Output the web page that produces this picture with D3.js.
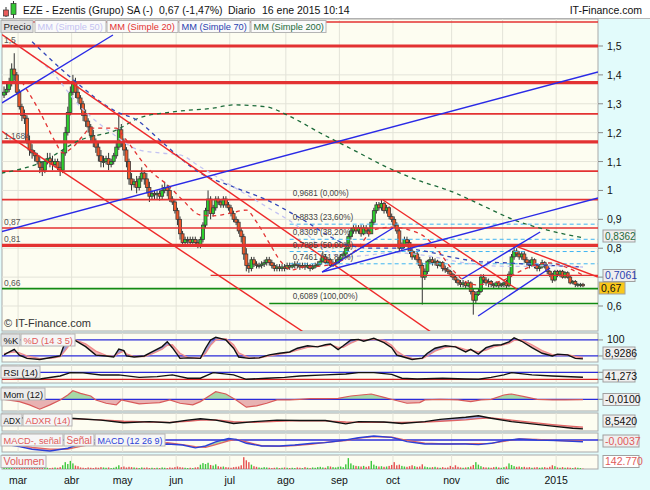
<!DOCTYPE html>
<html><head><meta charset="utf-8">
<script src="https://cdnjs.cloudflare.com/ajax/libs/d3/7.8.5/d3.min.js"></script>
<style>
html,body{margin:0;padding:0;background:#fff;}
svg{display:block;font-family:"Liberation Sans",Arial,sans-serif;}
</style></head><body>
<svg id="chart" width="650" height="490"></svg>
<script>
// ================= DATA =================
const opens = [
1.33,1.34,1.35,1.37,1.42,1.40,1.34,1.29,1.26,1.25,
1.17,1.14,1.13,1.12,1.10,1.08,1.07,1.10,1.11,1.10,
1.09,1.10,1.08,1.07,1.13,1.20,1.27,1.34,1.37,1.34,
1.32,1.30,1.26,1.24,1.22,1.19,1.17,1.15,1.12,1.10,
1.10,1.11,1.09,1.10,1.12,1.15,1.21,1.17,1.14,1.10,
1.04,1.02,1.03,1.01,1.04,1.06,1.04,1.01,0.98,0.99,
0.985,0.99,0.98,1.00,1.01,1.00,0.97,0.96,0.93,0.90,
0.85,0.82,0.83,0.83,0.82,0.83,0.82,0.81,0.83,0.88,
0.93,0.97,0.92,0.94,0.97,0.96,0.95,0.97,0.95,0.94,
0.92,0.90,0.89,0.86,0.84,0.78,0.74,0.73,0.76,0.745,
0.74,0.74,0.745,0.75,0.76,0.75,0.74,0.73,0.735,0.73,
0.735,0.73,0.74,0.735,0.74,0.745,0.74,0.735,0.74,0.735,
0.74,0.73,0.735,0.74,0.745,0.755,0.77,0.75,0.76,0.74,
0.745,0.75,0.76,0.77,0.78,0.80,0.84,0.86,0.87,0.86,
0.87,0.85,0.87,0.86,0.85,0.89,0.93,0.95,0.94,0.955,
0.93,0.94,0.91,0.90,0.88,0.86,0.80,0.81,0.83,0.82,
0.79,0.77,0.78,0.76,0.74,0.70,0.72,0.755,0.76,0.75,
0.755,0.74,0.75,0.73,0.725,0.72,0.71,0.70,0.69,0.68,
0.675,0.68,0.67,0.68,0.65,0.62,0.64,0.65,0.70,0.69,
0.68,0.685,0.675,0.67,0.68,0.67,0.675,0.68,0.67,0.71,
0.77,0.79,0.78,0.77,0.78,0.76,0.75,0.74,0.76,0.74,
0.73,0.735,0.75,0.74,0.72,0.71,0.69,0.72,0.71,0.72,
0.70,0.715,0.70,0.68,0.685,0.675,0.675,0.675];
const highs = [
1.36,1.37,1.39,1.44,1.475,1.41,1.35,1.30,1.28,1.26,
1.19,1.16,1.14,1.13,1.12,1.10,1.11,1.13,1.13,1.12,
1.11,1.11,1.10,1.14,1.22,1.29,1.36,1.40,1.39,1.36,
1.33,1.31,1.28,1.25,1.23,1.21,1.18,1.17,1.14,1.12,
1.12,1.13,1.11,1.13,1.17,1.26,1.23,1.18,1.15,1.11,
1.06,1.04,1.05,1.05,1.08,1.07,1.06,1.03,1.00,1.00,
1.00,1.00,1.02,1.03,1.02,1.01,0.98,0.97,0.94,0.91,
0.86,0.84,0.84,0.84,0.84,0.84,0.83,0.84,0.89,0.94,
1.00,0.98,0.95,0.98,0.98,0.97,0.98,0.98,0.96,0.95,
0.93,0.91,0.90,0.87,0.85,0.80,0.75,0.77,0.77,0.755,
0.75,0.755,0.76,0.77,0.77,0.76,0.75,0.745,0.745,0.745,
0.745,0.75,0.75,0.75,0.755,0.755,0.75,0.75,0.75,0.75,
0.745,0.745,0.75,0.755,0.765,0.79,0.78,0.77,0.765,0.755,
0.76,0.77,0.78,0.79,0.81,0.85,0.87,0.88,0.88,0.88,
0.88,0.88,0.88,0.87,0.90,0.94,0.96,0.96,0.967,0.96,
0.95,0.945,0.92,0.91,0.89,0.87,0.82,0.84,0.84,0.83,
0.80,0.79,0.79,0.77,0.75,0.73,0.76,0.77,0.77,0.765,
0.76,0.755,0.755,0.74,0.735,0.725,0.715,0.705,0.695,0.69,
0.69,0.685,0.69,0.685,0.66,0.65,0.66,0.71,0.71,0.70,
0.695,0.69,0.68,0.685,0.685,0.68,0.685,0.69,0.72,0.78,
0.81,0.80,0.79,0.79,0.79,0.77,0.76,0.77,0.765,0.745,
0.745,0.76,0.755,0.745,0.725,0.715,0.725,0.725,0.725,0.725,
0.72,0.72,0.705,0.69,0.69,0.68,0.68,0.68];
const lows = [
1.32,1.33,1.34,1.36,1.38,1.33,1.28,1.24,1.23,1.16,
1.12,1.11,1.10,1.09,1.06,1.05,1.06,1.09,1.08,1.07,
1.08,1.07,1.05,1.06,1.12,1.19,1.26,1.33,1.32,1.30,
1.28,1.24,1.22,1.20,1.17,1.15,1.13,1.10,1.08,1.08,
1.09,1.07,1.08,1.09,1.11,1.14,1.15,1.12,1.08,1.02,
1.00,1.01,0.99,1.00,1.03,1.02,0.99,0.96,0.97,0.97,
0.97,0.965,0.97,0.99,0.98,0.96,0.95,0.92,0.88,0.83,
0.81,0.81,0.815,0.81,0.815,0.81,0.80,0.80,0.82,0.87,
0.91,0.90,0.91,0.93,0.95,0.94,0.94,0.94,0.93,0.91,
0.89,0.88,0.85,0.82,0.76,0.72,0.715,0.72,0.735,0.73,
0.73,0.73,0.735,0.74,0.74,0.73,0.72,0.72,0.72,0.72,
0.72,0.725,0.725,0.73,0.73,0.73,0.725,0.73,0.725,0.73,
0.72,0.725,0.73,0.735,0.74,0.75,0.745,0.745,0.735,0.735,
0.74,0.745,0.755,0.765,0.77,0.79,0.83,0.85,0.85,0.85,
0.84,0.845,0.85,0.84,0.85,0.88,0.92,0.93,0.93,0.92,
0.92,0.90,0.89,0.87,0.85,0.79,0.79,0.80,0.81,0.78,
0.76,0.76,0.75,0.73,0.605,0.69,0.71,0.745,0.74,0.74,
0.73,0.735,0.72,0.715,0.71,0.70,0.69,0.68,0.67,0.665,
0.665,0.66,0.665,0.64,0.57,0.61,0.635,0.645,0.68,0.67,
0.665,0.665,0.66,0.665,0.66,0.665,0.665,0.66,0.665,0.70,
0.76,0.77,0.76,0.76,0.75,0.74,0.73,0.735,0.73,0.72,
0.72,0.73,0.73,0.71,0.70,0.68,0.685,0.70,0.70,0.695,
0.695,0.695,0.675,0.675,0.665,0.665,0.665,0.665];
const closes = [
1.34,1.35,1.37,1.42,1.40,1.34,1.29,1.26,1.25,1.17,
1.14,1.13,1.12,1.10,1.08,1.07,1.10,1.11,1.10,1.09,
1.10,1.08,1.07,1.13,1.20,1.27,1.34,1.37,1.34,1.32,
1.30,1.26,1.24,1.22,1.19,1.17,1.15,1.12,1.10,1.10,
1.11,1.09,1.10,1.12,1.15,1.21,1.17,1.14,1.10,1.04,
1.02,1.03,1.01,1.04,1.06,1.04,1.01,0.98,0.99,0.985,
0.99,0.98,1.00,1.01,1.00,0.97,0.96,0.93,0.90,0.85,
0.82,0.83,0.83,0.82,0.83,0.82,0.81,0.83,0.88,0.93,
0.97,0.92,0.94,0.97,0.96,0.95,0.97,0.95,0.94,0.92,
0.90,0.89,0.86,0.84,0.78,0.74,0.73,0.76,0.745,0.74,
0.74,0.745,0.75,0.76,0.75,0.74,0.73,0.735,0.73,0.735,
0.73,0.74,0.735,0.74,0.745,0.74,0.735,0.74,0.735,0.74,
0.73,0.735,0.74,0.745,0.755,0.77,0.75,0.76,0.74,0.745,
0.75,0.76,0.77,0.78,0.80,0.84,0.86,0.87,0.86,0.87,
0.85,0.87,0.86,0.85,0.89,0.93,0.95,0.94,0.955,0.93,
0.94,0.91,0.90,0.88,0.86,0.80,0.81,0.83,0.82,0.79,
0.77,0.78,0.76,0.74,0.70,0.72,0.755,0.76,0.75,0.755,
0.74,0.75,0.73,0.725,0.72,0.71,0.70,0.69,0.68,0.675,
0.68,0.67,0.68,0.65,0.62,0.64,0.65,0.70,0.69,0.68,
0.685,0.675,0.67,0.68,0.67,0.675,0.68,0.67,0.71,0.77,
0.79,0.78,0.77,0.78,0.76,0.75,0.74,0.76,0.74,0.73,
0.735,0.75,0.74,0.72,0.71,0.69,0.72,0.71,0.72,0.70,
0.715,0.70,0.68,0.685,0.675,0.675,0.675,0.67];
// volume in thousands of shares
const volumes = [
500,400,600,900,800,500,400,500,400,600,
500,400,300,400,500,400,300,400,300,400,
500,400,600,1200,2200,1600,2600,1800,1100,900,
500,400,300,500,400,300,500,400,600,500,
400,500,300,400,700,1200,600,800,500,700,
600,500,400,300,500,400,500,300,400,300,
400,300,500,400,300,500,400,600,800,600,
500,400,300,400,300,500,600,1400,1900,1600,
2000,1300,1100,1500,900,700,800,600,500,400,
600,700,800,1200,3800,2800,2200,1400,900,700,
500,400,600,500,400,300,400,500,300,400,
500,400,300,400,300,500,400,300,600,400,
300,500,400,600,700,500,400,900,800,600,
500,700,800,600,1500,3500,1800,1200,1000,900,
800,1000,700,900,2600,1400,1000,800,900,700,
800,1000,1300,2200,1200,1400,1000,800,700,900,
1200,900,700,800,1500,800,600,500,600,700,
500,400,600,400,500,1000,600,1200,700,500,
400,500,600,800,1300,2200,1400,900,600,500,
500,400,600,700,500,400,600,800,1800,1300,
900,700,800,600,700,500,600,400,500,600,
400,500,600,400,700,1200,900,500,400,600,
400,500,400,300,500,400,300,143];

const monthLabels = ["mar","abr","may","jun","jul","ago","sep","oct","nov","dic","2015"];
const monthStarts = [6,27,47,68,89,111,132,153,176,196,217];   // trading-day index of first session
const priceTicks = [0.6,0.7,0.8,0.9,1,1.1,1.2,1.3,1.4,1.5];
const priceTickLabels = ["0,6","","0,8","0,9","1","1,1","1,2","1,3","1,4","1,5"]; // 0,7 hidden under value tag

// horizontal support / resistance levels
const redLevels = [1.583,1.5,1.373,1.265,1.1684,1.067,0.9681,0.87,0.81];
const strongLevels = [1.5,1.373,1.1684,0.81];
const levelTags = [["1,5",1.5],["1,1684",1.1684],["0,87",0.87],["0,81",0.81],["0,66",0.66]];
const partialRedLevel = [81, 0.7061];          // [start day, price]
const greenLevels = [[-1, 0.66],[104, 0.6089]]; // [start day, price]

// Fibonacci retracement
const fibStartDay = 112;
const fibValues = [0.9681,0.8833,0.8309,0.7885,0.7461,0.6089];
const fibPcts = ["0,00%","23,60%","38,20%","50,00%","61,80%","100,00%"];

// trend lines: [[day, price],[day, price]]
const redTrends = [
  [[-0.8,1.5395],[174,0.4696]],
  [[-0.8,1.2047],[117,0.5124]],
  [[148.6,0.967],[201.6,0.6554]],
  [[199.6,0.811],[232.9,0.7004]]
];
const blueTrends = [
  [[-1.6,0.856],[232.9,1.41]],
  [[-1.6,1.299],[42.7,1.538]],
  [[124.7,0.7177],[232.9,0.974]],
  [[124.7,0.7177],[152.5,0.870]],
  [[179.6,0.6935],[210.2,0.8562]],
  [[185.9,0.5654],[214.1,0.7316]]
];

// moving averages (sampled [day, price])
const ma20 = [[7,1.376],[14,1.273],[20,1.17],[23,1.13],[27,1.15],[31,1.19],[34,1.216],[44,1.216],[47,1.185],[57,1.071],[65,1.012],[70,0.967],[77,0.915],[82,0.912],[89,0.922],[95,0.932],[99,0.891],[104,0.818],[109,0.749],[113,0.725],[117,0.735],[124,0.738],[132,0.756],[138,0.794],[145,0.863],[152,0.873],[159,0.863],[165,0.839],[170,0.794],[175,0.735],[180,0.69],[185,0.673],[191,0.68],[196,0.69],[201,0.714],[206,0.735],[214,0.749],[221,0.732],[227,0.707]];
const ma50 = [[6,1.497],[18,1.417],[30,1.289],[42,1.20],[53,1.14],[61,1.13],[69,1.123],[77,1.081],[90,1.012],[103,0.943],[116,0.87],[125,0.80],[133,0.77],[142,0.775],[152,0.785],[165,0.775],[180,0.75],[193,0.738],[203,0.737],[214,0.74],[227,0.735]];
const ma70 = [[11,1.515],[25,1.40],[44,1.273],[52,1.244],[61,1.175],[77,1.06],[90,1.012],[103,0.967],[116,0.905],[130,0.83],[135,0.81],[145,0.80],[155,0.80],[165,0.79],[175,0.77],[185,0.755],[195,0.75],[205,0.745],[215,0.74],[227,0.735]];
const ma200 = [[-1,1.06],[14,1.095],[30,1.175],[44,1.209],[53,1.251],[66,1.272],[82,1.285],[90,1.296],[103,1.289],[111,1.261],[124,1.199],[137,1.14],[150,1.081],[163,1.033],[175,0.998],[188,0.946],[200,0.898],[213,0.863],[227,0.836]];

// Stochastic %K / %D (14 3 5)
const stochDays = [0,1,4,6,9,14,19,22,24,26,28,32,36,40,43,45,47,48,51,55,58,62,64,66,69,72,77,79,81,83,87,90,92,96,100,104,108,112,115,119,123,126,128,131,133,136,139,141,145,149,152,154,157,160,164,166,169,173,177,181,183,186,189,192,195,198,200,203,207,211,215,217,221,224,227];
const stochK = [24,30,45,23,11,7,15,20,73,86,77,55,23,20,16,46,40,20,16,20,35,55,73,51,11,13,11,49,80,90,80,49,16,11,13,24,30,35,49,58,54,62,65,44,58,80,82,75,86,70,51,23,15,7,12,30,49,58,54,35,45,27,51,60,62,73,88,75,51,30,20,27,24,11,9];
const stochD = [30,31,35,32,20,10,12,17,40,65,80,65,38,22,18,30,38,28,18,18,28,45,60,62,30,15,12,30,60,80,85,62,32,14,12,20,27,33,42,52,56,58,62,52,52,68,80,80,82,78,60,38,20,11,10,20,38,52,56,44,42,35,42,54,60,67,78,80,62,40,25,24,25,18,14];
// RSI (14)
const rsiDays = [0,6,14,22,26,31,38,45,53,60,66,72,77,82,90,95,103,110,116,126,134,139,145,152,156,162,172,181,186,191,196,199,207,215,227];
const rsiVals = [45,36,32,49,68,67,55,55,41,45,55,36,36,68,55,30,36,41,49,55,60,68,68,58,36,32,36,32,30,41,55,68,55,49,41.3];
// Momentum (12)
const momDays = [0,6,10,14,18,22,25,27,30,34,36,40,44,46,49,53,57,61,65,69,74,77,81,83,87,91,95,99,103,107,112,116,120,126,131,136,144,149,153,158,163,165,171,178,183,187,191,196,199,204,209,215,220,227];
const momVals = [0,-0.07,-0.17,-0.30,-0.17,-0.02,0.13,0.26,0.18,0.10,-0.02,-0.12,-0.17,-0.02,-0.07,-0.14,-0.12,-0.10,-0.02,-0.12,-0.17,-0.07,0.13,0.23,0.16,-0.02,-0.24,-0.20,-0.12,-0.02,-0.02,0,0.02,0.02,0.03,0.10,0.16,0.06,-0.02,-0.12,-0.10,-0.02,0,-0.02,-0.07,-0.02,0,0.13,0.16,0.08,0,-0.02,-0.02,-0.01];
// ADX / ADXR (14)
const adxDays = [0,10,20,26,38,47,57,65,72,77,83,90,98,107,116,126,134,139,149,156,165,171,181,186,191,199,207,215,223,227];
const adxVals = [40,38,36,37,32,25,28,25,32,36,32,23,28,32,31,31,22,28,27,23,28,34,40,44,37,28,22,16,10,8.542];
const adxrVals = [38,37,36,36,33,29,27,26,29,32,33,28,26,29,31,30,27,26,26,26,27,29,33,36,38,32,26,20,15,13];
// MACD (12 26 9)
const macdDays = [0,6,11,18,25,30,35,45,55,64,70,75,79,83,88,91,95,101,108,114,121,126,134,139,145,152,158,165,173,181,186,191,196,202,209,217,227];
const macdVals = [-0.0087,-0.0145,-0.020,-0.024,-0.018,-0.008,-0.006,-0.010,-0.012,-0.0087,-0.011,-0.017,-0.013,-0.004,0.0036,0.0014,-0.0072,-0.013,-0.013,-0.011,-0.0072,-0.0058,0,0.005,0.0087,0.0058,-0.0036,-0.0087,-0.0087,-0.0087,-0.010,-0.0072,-0.0014,0.0022,0,-0.0014,-0.0037];
const signalVals = [-0.006,-0.011,-0.016,-0.020,-0.020,-0.014,-0.009,-0.009,-0.011,-0.0058,-0.010,-0.0145,-0.016,-0.010,-0.002,0.0014,-0.004,-0.0125,-0.014,-0.012,-0.009,-0.005,-0.0014,0.004,0.0072,0.006,-0.001,-0.007,-0.0087,-0.008,-0.0078,-0.0072,-0.003,0.0025,0.0014,-0.0014,-0.0022];

// ================= DRAWING =================
const svg = d3.select("#chart");
const defs = svg.append("defs");
const X0 = 2, X1 = 598;
const xS = d3.scaleLinear().domain([-0.8, 232.9]).range([X0, X1]);
const comma = v => String(v).replace(".", ",");

const P = {
  main:[19,331], stoch:[333,362], rsi:[365,383], mom:[387,411],
  adx:[413,431], macd:[433,452], vol:[455,469]
};
const bg = "#fdfdf1", frame = "#a9a9a9", gridC = "#e3e3d8";

svg.append("rect").attr("width",650).attr("height",490).attr("fill","#e2fbfb");
svg.append("rect").attr("x",0).attr("y",0).attr("width",650).attr("height",18).attr("fill","#fff");
svg.append("line").attr("x1",0).attr("x2",650).attr("y1",18.5).attr("y2",18.5).attr("stroke","#b8b8b8");

let clipN = 0;
function panel(key){
  const [t,b] = P[key];
  svg.append("rect").attr("x",X0).attr("y",t).attr("width",X1-X0).attr("height",b-t)
     .attr("fill",bg).attr("stroke",frame).attr("stroke-width",1);
  const id = "clip"+(clipN++);
  defs.append("clipPath").attr("id",id).append("rect")
      .attr("x",X0).attr("y",t).attr("width",X1-X0).attr("height",b-t);
  const g = svg.append("g").attr("clip-path",`url(#${id})`);
  g.selectAll("line.vg").data(monthStarts).join("line")
   .attr("x1",d=>xS(d-0.5)).attr("x2",d=>xS(d-0.5)).attr("y1",t).attr("y2",b)
   .attr("stroke",gridC).attr("stroke-width",1);
  return g;
}
// boxed label: fixed box width, font shrunk until text fits
function boxText(x, y, w, txt, col, fill, size){
  const g = svg.append("g");
  g.append("rect").attr("x",x).attr("y",y).attr("width",w).attr("height",12)
     .attr("fill",fill).attr("stroke","#b4b4b4");
  const t = g.append("text").attr("x",x+2.5).attr("y",y+9.6).attr("fill",col).text(txt);
  let s = size;
  t.attr("font-size",s);
  while (t.node().getComputedTextLength() > w-4 && s > 7){ s -= 0.25; t.attr("font-size",s); }
  return w;
}

// ---------- MAIN PANEL ----------
const yM = d3.scaleLinear().domain([0.6,1.5]).range([306,46]);
const gm = panel("main");
gm.selectAll("line.hg").data(priceTicks).join("line")
  .attr("x1",X0).attr("x2",X1).attr("y1",d=>yM(d)).attr("y2",d=>yM(d))
  .attr("stroke",gridC);

// candles
const idx = d3.range(closes.length);
gm.selectAll("line.wick").data(idx).join("line")
  .attr("x1",i=>xS(i)).attr("x2",i=>xS(i))
  .attr("y1",i=>yM(highs[i])).attr("y2",i=>yM(lows[i]))
  .attr("stroke","#333").attr("stroke-width",1);
gm.selectAll("rect.body").data(idx).join("rect")
  .attr("x",i=>xS(i)-1.5).attr("width",3)
  .attr("y",i=>yM(Math.max(opens[i],closes[i])))
  .attr("height",i=>Math.max(1,Math.abs(yM(opens[i])-yM(closes[i]))))
  .attr("fill",i=>closes[i]>=opens[i]?"#2bd12b":"#f0592a")
  .attr("stroke","#3a3a3a").attr("stroke-width",0.8);

// horizontal levels
gm.selectAll("line.lvl").data(redLevels).join("line")
  .attr("x1",X0).attr("x2",X1).attr("y1",d=>yM(d)).attr("y2",d=>yM(d))
  .attr("stroke","#e33232").attr("stroke-width",d=>strongLevels.includes(d)?3.2:1.6);
gm.append("line").attr("x1",xS(partialRedLevel[0])).attr("x2",X1)
  .attr("y1",yM(partialRedLevel[1])).attr("y2",yM(partialRedLevel[1]))
  .attr("stroke","#e33232").attr("stroke-width",1.4);
gm.selectAll("line.glvl").data(greenLevels).join("line")
  .attr("x1",d=>Math.max(X0,xS(d[0]))).attr("x2",X1).attr("y1",d=>yM(d[1])).attr("y2",d=>yM(d[1]))
  .attr("stroke","#128a12").attr("stroke-width",1.6);

// fibonacci dashed levels
gm.selectAll("line.fib").data(fibValues.slice(1,5)).join("line")
  .attr("x1",xS(fibStartDay)).attr("x2",X1).attr("y1",d=>yM(d)).attr("y2",d=>yM(d))
  .attr("stroke","#3fb4f2").attr("stroke-width",1).attr("stroke-dasharray","4,3");

// moving averages
const maLine = d3.line().x(d=>xS(d[0])).y(d=>yM(d[1])).curve(d3.curveMonotoneX);
[[ma200,"#1d6b3a"],[ma70,"#3346b8"],[ma50,"#c3c3f2"],[ma20,"#e33232"]].forEach(([data,c])=>{
  gm.append("path").attr("d",maLine(data)).attr("fill","none")
    .attr("stroke",c).attr("stroke-width",1.3).attr("stroke-dasharray","4,4");
});

// trend lines
const seg = d3.line().x(d=>xS(d[0])).y(d=>yM(d[1]));
redTrends.forEach(t=>gm.append("path").attr("d",seg(t)).attr("fill","none")
  .attr("stroke","#ee2a2a").attr("stroke-width",1.4));
blueTrends.forEach(t=>gm.append("path").attr("d",seg(t)).attr("fill","none")
  .attr("stroke","#2a2ae6").attr("stroke-width",1.4));

// level tags (left)
gm.selectAll("text.tag").data(levelTags).join("text")
  .attr("x",4).attr("y",d=>yM(d[1])-3).text(d=>d[0])
  .attr("font-size",8.5).attr("fill","#555");
// fib labels
gm.selectAll("text.fibt").data(fibValues).join("text")
  .attr("x",xS(fibStartDay)+3).attr("y",d=>yM(d)-4)
  .text((d,i)=>comma(d.toFixed(4))+" ("+fibPcts[i]+")")
  .attr("font-size",8.2).attr("fill","#444");
gm.append("text").attr("x",4).attr("y",327).attr("font-size",11).attr("fill","#333")
  .text("\u00A9 IT-Finance.com");

// legend row
const legend = [["Precio","#222","#e2e2e2",1,32],["MM (Simple 50)","#c3c3f2","#fafafa",35,71],
  ["MM (Simple 20)","#e33232","#fafafa",107,71],["MM (Simple 70)","#2a3fb0","#fafafa",179,71],
  ["MM (Simple 200)","#1d6b3a","#fafafa",251,75]];
legend.forEach(([t,c,b,x,w])=>boxText(x, 20.5, w, t, c, b, 10.5));

// right price axis
svg.selectAll("line.ptick").data(priceTicks).join("line")
  .attr("x1",X1).attr("x2",X1+5).attr("y1",d=>yM(d)).attr("y2",d=>yM(d)).attr("stroke","#888");
svg.selectAll("text.ptl").data(priceTicks).join("text")
  .attr("x",X1+9).attr("y",d=>yM(d)+4).text((d,i)=>priceTickLabels[i]).attr("font-size",10.5).attr("fill","#111");

function valBox(x,y,w,txt,col,fill,size){
  svg.append("rect").attr("x",x).attr("y",y).attr("width",w).attr("height",12)
     .attr("fill",fill).attr("stroke","#a0a0a0");
  svg.append("text").attr("x",x+2).attr("y",y+9.8).attr("font-size",size||10.5).attr("fill",col).text(txt);
}
valBox(603,230,32,"0,8362","#1d6b3a","#efefef",10);
valBox(603,269.5,32,"0,7061","#2a3fb0","#efefef");
valBox(599,282,26,"0,67","#111","#f9c81a");

// ---------- helpers for indicator panels ----------
function fillBetween(g, days, a, b, y, t, bot, colA, colB){
  const idA = "fc"+(clipN++), idB = "fc"+(clipN++);
  const below = (vals)=>d3.area().x((d,i)=>xS(days[i])).y0(bot).y1((d,i)=>y(vals[i]));
  const above = (vals)=>d3.area().x((d,i)=>xS(days[i])).y0(t).y1((d,i)=>y(vals[i]));
  defs.append("clipPath").attr("id",idA).append("path").attr("d",below(a)(days));
  defs.append("clipPath").attr("id",idB).append("path").attr("d",below(b)(days));
  g.append("path").attr("d",above(b)(days)).attr("fill",colA).attr("clip-path",`url(#${idA})`);
  g.append("path").attr("d",above(a)(days)).attr("fill",colB).attr("clip-path",`url(#${idB})`);
}
function seriesLine(g, days, vals, y, col, w){
  g.append("path").attr("d",d3.line().x((d,i)=>xS(days[i])).y((d,i)=>y(vals[i]))(days))
   .attr("fill","none").attr("stroke",col).attr("stroke-width",w);
}
function hline(g,yv,col){ g.append("line").attr("x1",X0).attr("x2",X1).attr("y1",yv).attr("y2",yv).attr("stroke",col).attr("stroke-width",1.3); }
function labelBoxes(y, items){
  items.forEach(([t,c,b,x,w])=>boxText(x, y, w, t, c, b, 10.5));
}
function rightTick(yv){ svg.append("line").attr("x1",X1).attr("x2",X1+5).attr("y1",yv).attr("y2",yv).attr("stroke","#888"); }

// ---------- STOCHASTIC ----------
const yK = d3.scaleLinear().domain([0,100]).range([361.3,334.6]);
const gs = panel("stoch");
fillBetween(gs, stochDays, stochK, stochD, yK, P.stoch[0], P.stoch[1], "#9a9ad6", "#f3b3b3");
hline(gs, yK(80), "#2b2bd8"); hline(gs, yK(20), "#2b2bd8");
seriesLine(gs, stochDays, stochD, yK, "#f08c8c", 1.3);
seriesLine(gs, stochDays, stochK, yK, "#111", 1.4);
labelBoxes(334, [["%K","#111","#e4e4e4",1,19],["%D (14 3 5)","#e05a5a","#f6f6f6",21,54]]);
rightTick(yK(80)); rightTick(yK(20));
svg.append("text").attr("x",607).attr("y",343).attr("font-size",10.5).attr("fill","#111").text("100");
valBox(603,347,32,"8,9286","#111","#efefef");

// ---------- RSI ----------
const yR = d3.scaleLinear().domain([0,100]).range([384.55,367.05]);
const gr = panel("rsi");
hline(gr, yR(70), "#2b2bd8"); hline(gr, yR(30), "#d42020");
seriesLine(gr, rsiDays, rsiVals, yR, "#111", 1.4);
labelBoxes(366, [["RSI (14)","#111","#ececec",1,39]]);
rightTick(yR(70)); rightTick(yR(30));
valBox(603,370,32,"41,273","#111","#efefef");

// ---------- MOMENTUM ----------
const yMo = d3.scaleLinear().domain([0,1]).range([399.3,366.3]);
const gmo = panel("mom");
const zeros = momDays.map(()=>0);
fillBetween(gmo, momDays, momVals, zeros, yMo, P.mom[0], P.mom[1], "#a6d9a6", "#e8b2b2");
hline(gmo, yMo(0), "#2b2bd8");
seriesLine(gmo, momDays, momVals, yMo, "#d85a5a", 1.2);
labelBoxes(388, [["Mom (12)","#111","#ececec",1,44]]);
rightTick(yMo(0));
valBox(603,393.5,36,"-0,0100","#111","#efefef");

// ---------- ADX ----------
const yA = d3.scaleLinear().domain([0,100]).range([432,395]);
const ga = panel("adx");
fillBetween(ga, adxDays, adxVals, adxrVals, yA, P.adx[0], P.adx[1], "#a4a4dc", "#f0b4b4");
seriesLine(ga, adxDays, adxrVals, yA, "#e06464", 1.3);
seriesLine(ga, adxDays, adxVals, yA, "#111", 1.4);
labelBoxes(414, [["ADX","#111","#ececec",1,21],["ADXR (14)","#e05a5a","#f6f6f6",23,49]]);
valBox(603,415,32,"8,5420","#111","#efefef");

// ---------- MACD ----------
const yMc = d3.scaleLinear().domain([0,0.01]).range([440,435.4]);
const gc = panel("macd");
fillBetween(gc, macdDays, macdVals, signalVals, yMc, P.macd[0], P.macd[1], "#a6d9a6", "#f0b4b4");
hline(gc, yMc(0), "#2b2bd8");
seriesLine(gc, macdDays, signalVals, yMc, "#e06464", 1.3);
seriesLine(gc, macdDays, macdVals, yMc, "#2b3fd8", 1.4);
labelBoxes(434, [["MACD-, se\u00f1al","#e05a5a","#f6f6f6",1,62],["Se\u00f1al","#e05a5a","#f6f6f6",64,30],["MACD (12 26 9)","#2b3fd8","#f6f6f6",95,70]]);
rightTick(yMc(0));
valBox(603,435,36,"-0,0037","#e05a5a","#efefef");

// ---------- VOLUME ----------
const yV = d3.scaleLinear().domain([0,4500]).range([469,455]);
const gv = panel("vol");
gv.selectAll("rect.v").data(idx).join("rect")
  .attr("x",i=>xS(i)-0.7).attr("width",1.4)
  .attr("y",i=>yV(volumes[i])).attr("height",i=>469-yV(volumes[i]))
  .attr("fill",i=>closes[i]>=opens[i]?"#3cc83c":"#e65050");
labelBoxes(455.5, [["Volumen","#e05a5a","#f6f6f6",1,45]]);
valBox(603,455.5,36,"142.770","#e05a5a","#ffffff");

// ---------- TIME AXIS ----------
svg.selectAll("text.mon").data(monthStarts).join("text")
  .attr("x",d=>xS(d-0.5)).attr("y",484).attr("text-anchor","middle")
  .attr("font-size",10.5).attr("fill","#111").text((d,i)=>monthLabels[i]);

// ---------- HEADER ----------
const icon = svg.append("g");
icon.append("line").attr("x1",6).attr("x2",6).attr("y1",7).attr("y2",17).attr("stroke","#333");
icon.append("rect").attr("x",3.5).attr("y",10).attr("width",5).attr("height",6).attr("fill","#e85a5a").attr("stroke","#333").attr("stroke-width",0.7);
icon.append("line").attr("x1",13.5).attr("x2",13.5).attr("y1",1).attr("y2",18).attr("stroke","#333");
icon.append("rect").attr("x",11).attr("y",3.5).attr("width",5).attr("height",11).attr("fill","#35c835").attr("stroke","#333").attr("stroke-width",0.7);
const hdr = [["EZE - Ezentis (Grupo) SA (-)",23],["0,67 (-1,47%)",159],["Diario",228],["16 ene 2015 10:14",262]];
const hdrText = svg.selectAll("text.hdr").data(hdr).join("text")
  .attr("x",d=>d[1]).attr("y",14).attr("font-size",10.5).attr("fill","#111").text(d=>d[0]);
// keep a gap between consecutive header items
hdrText.each(function(d,i){
  if (i < hdr.length-1){
    let s = 10.5;
    while (this.getComputedTextLength() > hdr[i+1][1]-d[1]-5 && s > 8){ s -= 0.25; d3.select(this).attr("font-size",s); }
  }
});
svg.append("text").attr("x",642).attr("y",14).attr("text-anchor","end").attr("font-size",10.5).attr("fill","#111")
  .text("IT-Finance.com");
</script>
</body></html>
